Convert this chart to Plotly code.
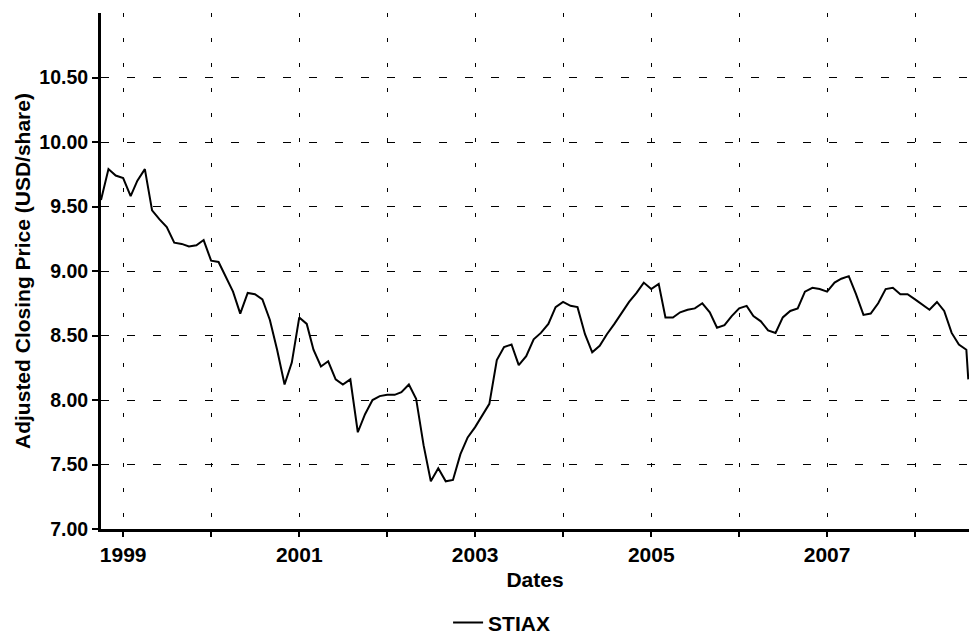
import plotly.graph_objects as go

# Monthly adjusted closing prices
dates = [
    "1998-10-01", "1998-11-01", "1998-12-01",
    "1999-01-01", "1999-02-01", "1999-03-01", "1999-04-01", "1999-05-01", "1999-06-01",
    "1999-07-01", "1999-08-01", "1999-09-01", "1999-10-01", "1999-11-01", "1999-12-01",
    "2000-01-01", "2000-02-01", "2000-03-01", "2000-04-01", "2000-05-01", "2000-06-01",
    "2000-07-01", "2000-08-01", "2000-09-01", "2000-10-01", "2000-11-01", "2000-12-01",
    "2001-01-01", "2001-02-01", "2001-03-01", "2001-04-01", "2001-05-01", "2001-06-01",
    "2001-07-01", "2001-08-01", "2001-09-01", "2001-10-01", "2001-11-01", "2001-12-01",
    "2002-01-01", "2002-02-01", "2002-03-01", "2002-04-01", "2002-05-01", "2002-06-01",
    "2002-07-01", "2002-08-01", "2002-09-01", "2002-10-01", "2002-11-01", "2002-12-01",
    "2003-01-01", "2003-02-01", "2003-03-01", "2003-04-01", "2003-05-01", "2003-06-01",
    "2003-07-01", "2003-08-01", "2003-09-01", "2003-10-01", "2003-11-01", "2003-12-01",
    "2004-01-01", "2004-02-01", "2004-03-01", "2004-04-01", "2004-05-01", "2004-06-01",
    "2004-07-01", "2004-08-01", "2004-09-01", "2004-10-01", "2004-11-01", "2004-12-01",
    "2005-01-01", "2005-02-01", "2005-03-01", "2005-04-01", "2005-05-01", "2005-06-01",
    "2005-07-01", "2005-08-01", "2005-09-01", "2005-10-01", "2005-11-01", "2005-12-01",
    "2006-01-01", "2006-02-01", "2006-03-01", "2006-04-01", "2006-05-01", "2006-06-01",
    "2006-07-01", "2006-08-01", "2006-09-01", "2006-10-01", "2006-11-01", "2006-12-01",
    "2007-01-01", "2007-02-01", "2007-03-01", "2007-04-01", "2007-05-01", "2007-06-01",
    "2007-07-01", "2007-08-01", "2007-09-01", "2007-10-01", "2007-11-01", "2007-12-01",
    "2008-01-01", "2008-02-01", "2008-03-01", "2008-04-01", "2008-05-01", "2008-06-01",
    "2008-07-01", "2008-08-01", "2008-08-09",
]
stiax = [
    9.55, 9.79, 9.74,
    9.72, 9.58, 9.70, 9.79, 9.47, 9.40,
    9.34, 9.22, 9.21, 9.19, 9.20, 9.24,
    9.08, 9.07, 8.96, 8.84, 8.67, 8.83,
    8.82, 8.78, 8.62, 8.39, 8.12, 8.29,
    8.64, 8.59, 8.39, 8.26, 8.30, 8.16,
    8.12, 8.16, 7.75, 7.89, 8.00, 8.03,
    8.04, 8.04, 8.06, 8.12, 8.01, 7.65,
    7.37, 7.47, 7.37, 7.38, 7.58, 7.71,
    7.79, 7.88, 7.97, 8.31, 8.41, 8.43,
    8.27, 8.34, 8.47, 8.52, 8.59, 8.72,
    8.76, 8.73, 8.72, 8.51, 8.37, 8.42,
    8.51, 8.59, 8.68, 8.76, 8.83, 8.91,
    8.86, 8.90, 8.64, 8.64, 8.68, 8.70,
    8.71, 8.75, 8.68, 8.56, 8.58, 8.65,
    8.71, 8.73, 8.65, 8.61, 8.54, 8.52,
    8.64, 8.69, 8.71, 8.84, 8.87, 8.86,
    8.84, 8.91, 8.94, 8.96, 8.82, 8.66,
    8.67, 8.75, 8.86, 8.87, 8.82, 8.82,
    8.78, 8.74, 8.70, 8.76, 8.69, 8.52,
    8.43, 8.39, 8.16,
]

year_ticks = ["1999-01-01", "2000-01-01", "2001-01-01", "2002-01-01", "2003-01-01",
              "2004-01-01", "2005-01-01", "2006-01-01", "2007-01-01", "2008-01-01"]
year_labels = ["1999", "", "2001", "", "2003", "", "2005", "", "2007", ""]
y_ticks = [7.0, 7.5, 8.0, 8.5, 9.0, 9.5, 10.0, 10.5]
y_labels = ["7.00", "7.50", "8.00", "8.50", "9.00", "9.50", "10.00", "10.50"]

bold = dict(family="Liberation Sans", size=21, color="black", weight="bold")
bold_y = dict(family="Liberation Sans", size=19.5, color="black", weight="bold")

fig = go.Figure()
fig.add_trace(go.Scatter(
    x=dates, y=stiax, mode="lines", name="STIAX",
    line=dict(color="black", width=2),
))

fig.update_layout(
    width=969, height=634,
    margin=dict(l=101, r=0, t=13, b=105, autoexpand=False),
    plot_bgcolor="white", paper_bgcolor="white",
    showlegend=True,
    legend=dict(
        orientation="h", x=0.4615, xanchor="center", y=-0.182, yanchor="middle",
        font=dict(family="Liberation Sans", size=21, color="black", weight="bold"),
        itemwidth=30, bgcolor="rgba(0,0,0,0)",
    ),
    xaxis=dict(
        type="date",
        range=["1998-10-01", "2008-08-12"],
        tickvals=year_ticks, ticktext=year_labels,
        showgrid=True, gridcolor="black", gridwidth=1, griddash="4px,21px",
        showline=True, linecolor="black", linewidth=3,
        ticks="outside", ticklen=5, tickwidth=2, tickcolor="black",
        tickfont=bold,
        title=dict(text="Dates", font=bold, standoff=8),
        zeroline=False,
    ),
    yaxis=dict(
        range=[7.0, 11.0],
        tickvals=y_ticks, ticktext=y_labels,
        showgrid=True, gridcolor="black", gridwidth=1, griddash="8px,18px",
        showline=True, linecolor="black", linewidth=3,
        ticks="outside", ticklen=6, tickwidth=2, tickcolor="black",
        tickfont=bold_y,
        title=dict(text="Adjusted Closing Price (USD/share)",
                   font=dict(family="Liberation Sans", size=21, color="black", weight="bold"),
                   standoff=3),
        zeroline=False,
    ),
)

fig.write_html(
    "out.html",
    config={"displayModeBar": False},
    post_script="document.body.style.margin='0';document.body.style.overflow='hidden';",
)
